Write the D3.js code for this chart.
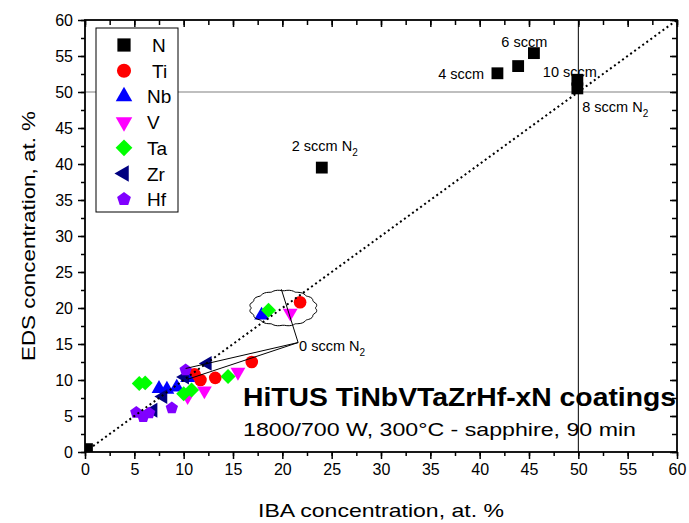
<!DOCTYPE html>
<html>
<head>
<meta charset="utf-8">
<script src="https://cdn.jsdelivr.net/npm/d3@7"></script>
<style>
  body { margin: 0; background: #fff; }
  text { font-family: "Liberation Sans", Arial, sans-serif; }
</style>
</head>
<body>
<svg width="689" height="523"></svg>
<script>
// data: [IBA, EDS] at. %
var nData  = [[0.2, 0.4], [24.0, 39.5], [41.8, 52.6], [43.9, 53.6], [45.5, 55.4], [49.9, 51.7], [49.9, 50.5]];
var tiData = [[21.8, 20.8], [16.9, 12.5], [13.2, 10.3], [11.7, 10.0], [11.1, 10.8]];
var nbData = [[17.9, 19.0], [7.5, 8.8], [8.3, 8.7], [9.3, 9.0], [10.4, 10.3]];
var vData  = [[20.8, 19.3], [15.5, 11.1], [12.1, 8.5], [10.4, 7.7]];
var taData = [[18.6, 19.7], [5.5, 9.5], [6.1, 9.6], [10.0, 8.1], [10.8, 8.6], [14.5, 10.5]];
var zrData = [[12.4, 12.3], [7.9, 7.7], [10.1, 10.4], [6.9, 5.8]];
var hfData = [[10.2, 11.4], [8.8, 6.1], [5.2, 5.5], [5.9, 4.9], [6.5, 5.4]];

var xTicks = d3.range(0, 61, 5),
    yTicks = d3.range(0, 61, 5),
    minorTicks = d3.range(0, 60.1, 2.5);

var pentagon = {
    draw: function (ctx, size) {
        var r = Math.sqrt(size / (2.5 * Math.sin(72 * Math.PI / 180)));
        for (var i = 0; i < 5; i++) {
            var a = (-90 + i * 72) * Math.PI / 180;
            if (i === 0) ctx.moveTo(r * Math.cos(a), r * Math.sin(a));
            else ctx.lineTo(r * Math.cos(a), r * Math.sin(a));
        }
        ctx.closePath();
    }
};

var series = [
    {name: "N",  data: nData,  color: "#000000", type: d3.symbolSquare,   size: 140, rot: 0},
    {name: "Ti", data: tiData, color: "#ff0000", type: d3.symbolCircle,   size: 125, rot: 0},
    {name: "Nb", data: nbData, color: "#0000ff", type: d3.symbolTriangle, size: 95,  rot: 0},
    {name: "V",  data: vData,  color: "#ff00ff", type: d3.symbolTriangle, size: 95,  rot: 180},
    {name: "Ta", data: taData, color: "#00ff00", type: d3.symbolSquare,   size: 112, rot: 45},
    {name: "Zr", data: zrData, color: "#000080", type: d3.symbolTriangle, size: 95,  rot: -90},
    {name: "Hf", data: hfData, color: "#8000ff", type: pentagon,          size: 100, rot: 0}
];

var svg = d3.select("svg"),
    pLeft = 85, pRight = 677, pTop = 20, pBottom = 452;

var x = d3.scaleLinear().domain([0, 60]).range([pLeft, pRight]),
    y = d3.scaleLinear().domain([0, 60]).range([pBottom, pTop]);

svg.append("defs").append("clipPath").attr("id", "plotclip")
    .append("rect")
    .attr("x", pLeft).attr("y", pTop).attr("width", pRight - pLeft).attr("height", pBottom - pTop);

// reference lines at 50 / 50
svg.append("line")
    .attr("x1", x(0)).attr("x2", x(60)).attr("y1", y(50)).attr("y2", y(50))
    .attr("stroke", "#808080").attr("stroke-width", 1.2);
svg.append("line")
    .attr("x1", x(50)).attr("x2", x(50)).attr("y1", y(0)).attr("y2", y(60))
    .attr("stroke", "#000").attr("stroke-width", 1);

// markers
var marks = svg.append("g").attr("clip-path", "url(#plotclip)");
series.forEach(function (s) {
    marks.append("g").selectAll("path")
        .data(s.data)
        .enter().append("path")
        .attr("d", d3.symbol().type(s.type).size(s.size))
        .attr("transform", function (d) {
            return "translate(" + x(d[0]) + "," + y(d[1]) + ") rotate(" + s.rot + ")";
        })
        .attr("fill", s.color);
});

// y = x dotted line
svg.append("line")
    .attr("x1", x(0)).attr("y1", y(0)).attr("x2", x(60)).attr("y2", y(60))
    .attr("stroke", "#000").attr("stroke-width", 2)
    .attr("stroke-dasharray", "2,3");

// wavy ellipse round the 0 sccm points
var ec = [20.1, 20.0], erx = 32, ery = 17;
var ellPts = d3.range(0, 360, 4).map(function (a) {
    var t = a * Math.PI / 180,
        k = 1 + 0.06 * Math.abs(Math.sin(t * 8));
    return [x(ec[0]) + erx * k * Math.cos(t), y(ec[1]) + ery * k * Math.sin(t)];
});
svg.append("path")
    .attr("d", d3.line().curve(d3.curveCardinalClosed)(ellPts))
    .attr("fill", "none").attr("stroke", "#000").attr("stroke-width", 1);

// leader lines for 0 sccm
var lp = [21.6, 15.2];
[[19.9, 22.6], [10.2, 11.6], [10.4, 10.1]].forEach(function (p) {
    svg.append("line")
        .attr("x1", x(lp[0])).attr("y1", y(lp[1]))
        .attr("x2", x(p[0])).attr("y2", y(p[1]))
        .attr("stroke", "#000").attr("stroke-width", 1);
});

// annotations
function label(txt, sub, px, py) {
    var t = svg.append("text")
        .attr("x", x(px)).attr("y", y(py))
        .attr("font-size", 14.5).text(txt);
    if (sub) t.append("tspan").attr("font-size", 10).attr("dy", 5).text(sub);
}
label("2 sccm N", "2", 20.95, 41.75);
label("6 sccm", null, 42.2, 56.2);
label("4 sccm", null, 35.8, 51.8);
label("10 sccm", null, 46.4, 52.1);
label("8 sccm N", "2", 50.4, 47.2);
label("0 sccm N", "2", 21.7, 14.0);

// axes
function tickGroup(axis, tf) {
    var g = svg.append("g").attr("transform", tf).call(axis);
    g.select(".domain").remove();
    g.selectAll("line").attr("stroke", "#000").attr("stroke-width", 1.5);
    g.selectAll("text").attr("font-size", 16).attr("fill", "#000")
        .attr("font-family", "'Liberation Sans', Arial, sans-serif");
    return g;
}
tickGroup(d3.axisBottom(x).tickValues(minorTicks).tickSize(4).tickFormat(""), "translate(0," + pBottom + ")");
tickGroup(d3.axisBottom(x).tickValues(xTicks).tickSize(7).tickPadding(5).tickFormat(d3.format("d")), "translate(0," + pBottom + ")");
tickGroup(d3.axisLeft(y).tickValues(minorTicks).tickSize(4).tickFormat(""), "translate(" + pLeft + ",0)");
tickGroup(d3.axisLeft(y).tickValues(yTicks).tickSize(7).tickPadding(5).tickFormat(d3.format("d")), "translate(" + pLeft + ",0)");
tickGroup(d3.axisTop(x).tickValues(minorTicks).tickSize(-5).tickFormat(""), "translate(0," + pTop + ")");
tickGroup(d3.axisTop(x).tickValues(xTicks).tickSize(-7).tickFormat(""), "translate(0," + pTop + ")");
tickGroup(d3.axisRight(y).tickValues(minorTicks).tickSize(-5).tickFormat(""), "translate(" + pRight + ",0)");
tickGroup(d3.axisRight(y).tickValues(yTicks).tickSize(-7).tickFormat(""), "translate(" + pRight + ",0)");

svg.append("rect")
    .attr("x", pLeft).attr("y", pTop).attr("width", pRight - pLeft).attr("height", pBottom - pTop)
    .attr("fill", "none").attr("stroke", "#000").attr("stroke-width", 1.8);

// axis titles
svg.append("text")
    .attr("x", (pLeft + pRight) / 2).attr("y", 517)
    .attr("text-anchor", "middle").attr("font-size", 19)
    .attr("textLength", 246).attr("lengthAdjust", "spacingAndGlyphs")
    .text("IBA concentration, at. %");
svg.append("text")
    .attr("transform", "translate(35," + ((pTop + pBottom) / 2) + ") rotate(-90)")
    .attr("text-anchor", "middle").attr("font-size", 19)
    .attr("textLength", 250).attr("lengthAdjust", "spacingAndGlyphs")
    .text("EDS concentration, at. %");

// chart caption
svg.append("text")
    .attr("x", 243).attr("y", 406)
    .attr("font-size", 26).attr("font-weight", "bold")
    .attr("textLength", 433).attr("lengthAdjust", "spacingAndGlyphs")
    .text("HiTUS TiNbVTaZrHf-xN coatings");
svg.append("text")
    .attr("x", 243).attr("y", 436)
    .attr("font-size", 19)
    .attr("textLength", 393).attr("lengthAdjust", "spacingAndGlyphs")
    .text("1800/700 W, 300\u00b0C - sapphire, 90 min");

// legend
var lg = svg.append("g");
lg.append("rect")
    .attr("x", 96).attr("y", 28).attr("width", 82).attr("height", 184)
    .attr("fill", "#fff").attr("stroke", "#000").attr("stroke-width", 1);
series.forEach(function (s, i) {
    var cy = 45 + i * 25.7;
    lg.append("path")
        .attr("d", d3.symbol().type(s.type).size(s.size * 1.25))
        .attr("transform", "translate(124," + cy + ") rotate(" + s.rot + ")")
        .attr("fill", s.color);
    lg.append("text")
        .attr("x", i < 2 ? 152 : 147).attr("y", cy + 7)
        .attr("font-size", 19)
        .text(s.name);
});
</script>
</body>
</html>
